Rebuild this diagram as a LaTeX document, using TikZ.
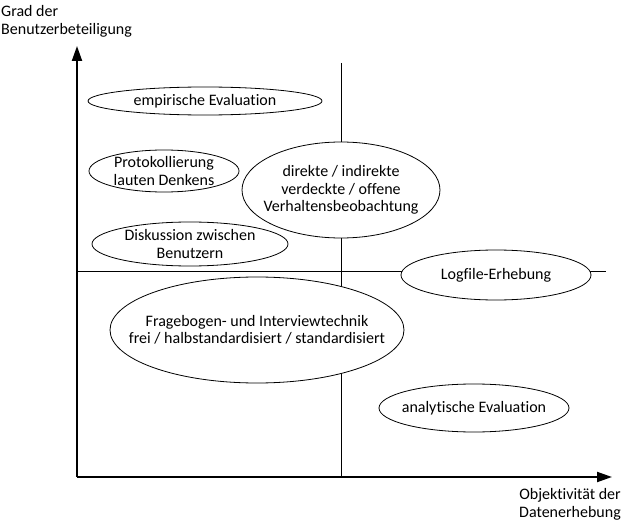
\documentclass[tikz,border=0pt]{standalone}
\usepackage{fontspec}
\setmainfont[Ligatures={NoCommon}]{Carlito}
\usetikzlibrary{shapes.geometric,arrows.meta}

\tikzset{
  method/.style={ellipse,draw,line width=0.8pt,inner xsep=-30pt,inner ysep=-8pt,align=center,
    font=\fontsize{16}{17.5}\selectfont},
  axislabel/.style={inner sep=0pt,font=\fontsize{16}{18}\selectfont},
  axis/.style={line width=2pt,-{Triangle[length=15pt,width=10pt]}},
  divider/.style={line width=1pt}
}

\begin{document}
\begin{tikzpicture}[x=1pt,y=-1pt]
                        \useasboundingbox (0,0) rectangle (625,527);
                        % axes
                        \coordinate (O) at (77,477);
                        \coordinate (Ytop) at (77,46);
                        \coordinate (Xend) at (612,477);
                        \draw [axis] (O) -- (Ytop);
                        \draw [axis] (O) -- (Xend);
                        \node [axislabel,anchor=north west,align=left] (YL) at (1,5) {Grad der\\Benutzerbeteiligung};
                        \node [axislabel,anchor=north east,align=right] (XL) at (621,488) {Objektivit\"at der\\Datenerhebung};
                        % quadrant lines
                        \coordinate (Vtop) at (341,63);
                        \coordinate (Vbot) at (341,477);
                        \coordinate (Hleft) at (77,271);
                        \coordinate (Hright) at (606,271);
                        \draw [divider] (Vtop) -- (Vbot);
                        \draw [divider] (Hleft) -- (Hright);
                        % upper left
                        \node [method,fill=white,minimum width=234pt,minimum height=28pt] (EMP) at (205,101) {empirische Evaluation};
                        \node [method,fill=white,minimum width=150pt,minimum height=42pt] (PROT) at (164,171) {Protokollierung\\lauten Denkens};
                        \node [method,fill=white,minimum width=196pt,minimum height=44pt] (DISK) at (190,244) {Diskussion zwischen\\Benutzern};
                        % centre
                        \node [method,fill=white,minimum width=198pt,minimum height=96pt] (BEOB) at (341,190) {direkte / indirekte\\verdeckte / offene\\Verhaltensbeobachtung};
                        \node [method,fill=white,minimum width=294pt,minimum height=106pt] (FRAG) at (257,330) {Fragebogen- und Interviewtechnik\\frei / halbstandardisiert / standardisiert};
                        % right
                        \node [method,fill=white,minimum width=190pt,minimum height=50pt] (LOG) at (496,275) {Logfile-Erhebung};
                        \node [method,fill=white,minimum width=190pt,minimum height=48pt] (ANA) at (474,408) {analytische Evaluation};
                    \end{tikzpicture}
\end{document}
